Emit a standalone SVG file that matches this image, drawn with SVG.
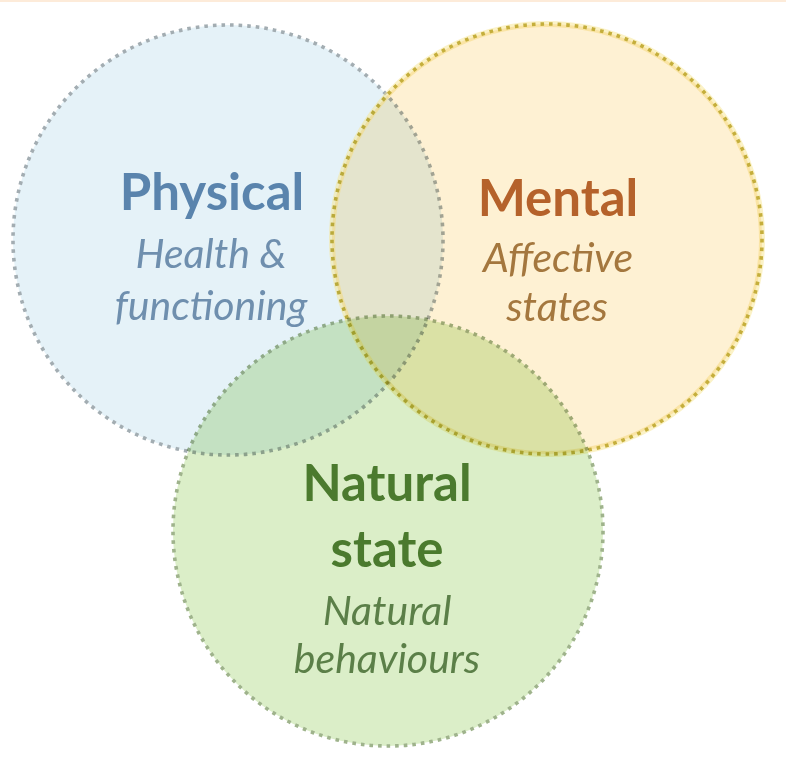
<svg xmlns="http://www.w3.org/2000/svg" width="786" height="768" viewBox="0 0 786 768">
<style>
.disc{mix-blend-mode:multiply;stroke-width:3.6;stroke-dasharray:3.6 5;}
.t{font-family:Lato,"Liberation Sans",sans-serif;text-anchor:middle;}
.b{font-weight:bold;font-size:51px;}
.i{font-style:italic;font-size:41px;}
</style>
<rect width="786" height="768" fill="#ffffff"/>
<rect width="786" height="2" fill="#fdebd9"/>
<g id="physical">
<circle class="disc" cx="228" cy="240" r="215" fill="#e5f2f8" stroke="#a3adb2"/>
<text class="t b" x="212" y="210" fill="#5a84ad">Physical</text>
<text class="t i" x="211" y="268" fill="#6f8fae">Health &amp;</text>
<text class="t i" x="211" y="320" fill="#6f8fae">functioning</text>
</g>
<g id="mental">
<circle cx="547" cy="239" r="215" fill="none" stroke="#f7e690" stroke-width="6" opacity="0.5"/>
<circle class="disc" cx="547" cy="239" r="215" fill="#fef1d3" stroke="#c8b84c"/>
<text class="t b" x="558" y="216" fill="#b5622b">Mental</text>
<text class="t i" x="558" y="272" fill="#a4773e">Affective</text>
<text class="t i" x="557" y="321" fill="#a4773e">states</text>
</g>
<g id="natural">
<circle class="disc" cx="388" cy="531" r="215" fill="#dbeec8" stroke="#9fb38c"/>
<text class="t b" x="387" y="501" fill="#4b7a2e">Natural</text>
<text class="t b" x="387" y="567" fill="#4b7a2e">state</text>
<text class="t i" x="387" y="625" fill="#5b7f48">Natural</text>
<text class="t i" x="387" y="673" fill="#5b7f48">behaviours</text>
</g>
<g id="connectors"/>
</svg>
